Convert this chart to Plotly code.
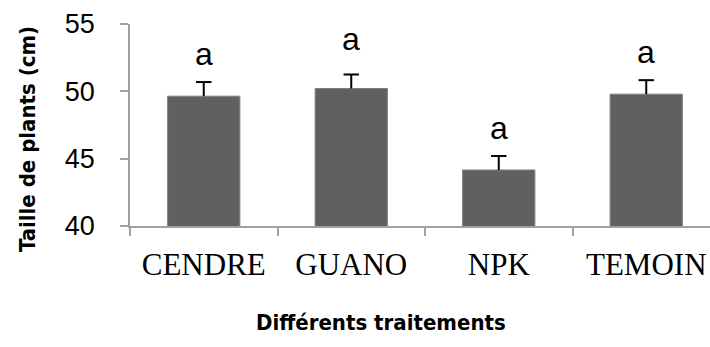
import plotly.graph_objects as go

categories = ["CENDRE", "GUANO", "NPK", "TEMOIN"]
values = [49.64, 50.21, 44.16, 49.79]
errors = [1.05, 1.04, 1.04, 1.04]
letters = ["a", "a", "a", "a"]
y_ticks = [40, 45, 50, 55]

# extra pixel lift of each significance letter (style, as placed in the original)
letter_lift = [8, 16, 8, 8]

W, H = 710, 347
L, R, T, B = 130, 0, 24, 347 - 226
pw = W - L - R
ph = H - T - B

def px_to_paper_x(px):
    return (px - L) / pw

def px_to_paper_y(py):
    return (H - B - py) / ph

tops = [v + e for v, e in zip(values, errors)]

fig = go.Figure()
fig.add_trace(go.Bar(
    x=categories, y=values, width=0.49,
    marker=dict(color="#606060", line=dict(color="#808080", width=1)),
))
fig.add_trace(go.Scatter(
    x=categories, y=tops, mode="markers",
    marker=dict(symbol="line-ew", size=11, line=dict(color="black", width=2), color="black"),
    error_y=dict(type="data", array=[0] * len(errors), arrayminus=errors, symmetric=False,
                 color="black", thickness=2, width=0),
    cliponaxis=False,
))

for c, t, lab, lift in zip(categories, tops, letters, letter_lift):
    fig.add_annotation(x=c, y=t, text=lab, showarrow=False, xref="x", yref="y",
                       yanchor="bottom", yshift=lift,
                       font=dict(family="Liberation Sans, Arial", size=32, color="black"))

fig.add_annotation(x=px_to_paper_x(27), y=px_to_paper_y(139), xref="paper", yref="paper",
                   text="<b>Taille de plants (cm)</b>", textangle=-90, showarrow=False,
                   xanchor="center", yanchor="middle",
                   font=dict(family="DejaVu Sans Condensed, DejaVu Sans", size=22, color="black"))
fig.add_annotation(x=px_to_paper_x(381), y=px_to_paper_y(322), xref="paper", yref="paper",
                   text="<b>Différents traitements</b>", showarrow=False,
                   xanchor="center", yanchor="middle",
                   font=dict(family="DejaVu Sans Condensed, DejaVu Sans", size=22, color="black"))

fig.update_layout(
    width=W, height=H,
    margin=dict(l=L, r=R, t=T, b=B, pad=0),
    paper_bgcolor="white", plot_bgcolor="white",
    showlegend=False,
    xaxis=dict(range=[-0.5, -0.5 + 4 * pw / 590], type="category",
               showline=True, linecolor="#a0a0a0", linewidth=1.5,
               ticks="outside", tickson="boundaries", ticklen=8, tickcolor="#a0a0a0", tickwidth=1.5,
               showgrid=False, zeroline=False, ticklabelstandoff=10,
               tickfont=dict(family="Liberation Serif, Times New Roman", size=31, color="black")),
    yaxis=dict(range=[40, 55], tickvals=y_ticks, showline=True, linecolor="#a0a0a0", linewidth=1.5,
               ticks="outside", ticklen=8, tickcolor="#a0a0a0", tickwidth=1.5,
               showgrid=False, zeroline=False, ticklabelstandoff=20,
               tickfont=dict(family="Liberation Sans, Arial", size=27, color="black")),
)

fig.write_html("out.html", config={"displayModeBar": False},
               post_script="document.body.style.margin='0';document.body.style.overflow='hidden';")
